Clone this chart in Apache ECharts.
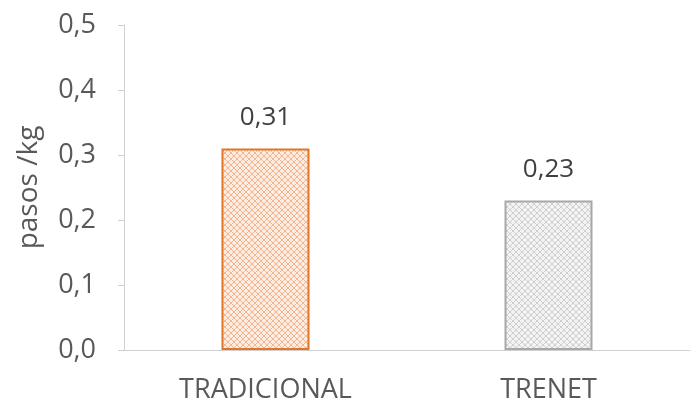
<!DOCTYPE html>
<html>
<head>
<meta charset="utf-8">
<style>
  html, body { margin: 0; padding: 0; background: #ffffff; }
  #chart { width: 697px; height: 404px; }
</style>
<script src="https://cdn.jsdelivr.net/npm/echarts@6/dist/echarts.min.js"></script>
</head>
<body>
<div id="chart"></div>
<script>
// Categories and values
const categories = ['TRADICIONAL', 'TRENET'];
const values = [0.31, 0.23];
const yTicks = [0, 0.1, 0.2, 0.3, 0.4, 0.5];

// Cross-hatch fill tile
function hatch(bg, lineColor) {
  const s = 6;
  const c = document.createElement('canvas');
  c.width = s; c.height = s;
  const g = c.getContext('2d');
  g.fillStyle = bg;
  g.fillRect(0, 0, s, s);
  g.strokeStyle = lineColor;
  g.lineWidth = 1;
  g.beginPath();
  g.moveTo(0, 0); g.lineTo(s, s);
  g.moveTo(s, 0); g.lineTo(0, s);
  g.stroke();
  return { image: c, repeat: 'repeat' };
}

const fills = [hatch('#fcece1', '#f0b791'), hatch('#f3f3f3', '#cfcfcf')];
const borders = ['#e2752a', '#a8a8a8'];

const fmt = v => v.toFixed(1).replace('.', ',');
const textColor = '#595959';
const font = 'Open Sans';

const chart = echarts.init(document.getElementById('chart'));
chart.setOption({
  animation: false,
  grid: { left: 124, right: 7, top: 25, bottom: 54 },
  xAxis: {
    type: 'category',
    data: categories,
    axisLine: { lineStyle: { color: '#d0d0d0', width: 1 } },
    axisTick: { show: false },
    axisLabel: { color: textColor, fontFamily: font, fontSize: 27, margin: 27 }
  },
  yAxis: {
    type: 'value',
    min: yTicks[0],
    max: yTicks[yTicks.length - 1],
    interval: 0.1,
    name: 'pasos /kg',
    nameLocation: 'middle',
    nameGap: 81,
    nameTextStyle: { color: textColor, fontFamily: font, fontSize: 28 },
    axisLine: { show: true, lineStyle: { color: '#d0d0d0' } },
    axisTick: { show: true, inside: false, length: 6, lineStyle: { color: '#d0d0d0' } },
    splitLine: { show: false },
    axisLabel: { color: textColor, fontFamily: font, fontSize: 27, margin: 28, formatter: fmt }
  },
  series: [{
    type: 'bar',
    barWidth: 88,
    data: values.map((v, i) => ({
      value: v,
      itemStyle: { color: fills[i], borderColor: borders[i], borderWidth: 2 }
    })),
    label: {
      show: true,
      position: 'top',
      distance: 18,
      color: '#404040',
      fontFamily: font,
      fontSize: 26,
      formatter: p => p.value.toFixed(2).replace('.', ',')
    }
  }]
});
</script>
</body>
</html>
